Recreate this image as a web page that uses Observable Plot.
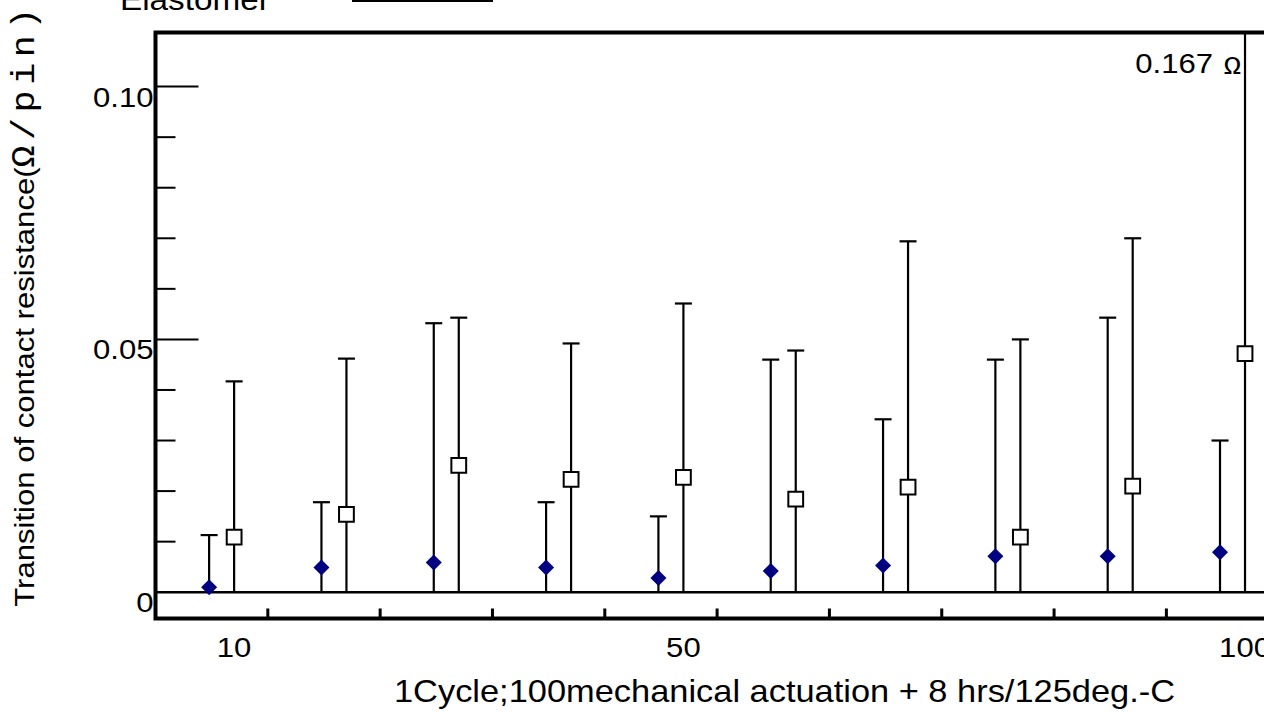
<!DOCTYPE html>
<html>
<head>
<meta charset="utf-8">
<script src="https://cdn.jsdelivr.net/npm/d3@7"></script>
<script src="https://cdn.jsdelivr.net/npm/@observablehq/plot@0.6"></script>
<style>
  html, body { margin: 0; padding: 0; overflow: hidden; background: white; }
  #legend { display: block; }
  #chart svg { overflow: visible !important; }
</style>
</head>
<body>
<svg id="legend" width="1264" height="25"></svg>
<div id="chart"></div>
<script>
// ---- data ----
const cycles = [10, 20, 30, 40, 50, 60, 70, 80, 90, 100];
const diamondMean  = [0.0010, 0.0049, 0.0059, 0.0049, 0.0028, 0.0042, 0.0053, 0.0071, 0.0071, 0.0079];
const diamondUpper = [0.0113, 0.0178, 0.0532, 0.0178, 0.0150, 0.0460, 0.0342, 0.0460, 0.0543, 0.0300];
const squareMean   = [0.0109, 0.0154, 0.0251, 0.0223, 0.0227, 0.0184, 0.0208, 0.0109, 0.0210, 0.0472];
const squareUpper  = [0.0417, 0.0462, 0.0543, 0.0492, 0.0571, 0.0478, 0.0694, 0.0500, 0.0700, 0.167];

const xTickValues = [13, 23, 33, 43, 53, 63, 73, 83, 93, 103, 113];
const xTickLabels = [10, 50, 100];
const yMinorTicks = [0.01, 0.02, 0.03, 0.04, 0.06, 0.07, 0.08, 0.09];
const yMajorTicks = [0.05, 0.10];
const yLabelValues = [0, 0.05, 0.10];
const yLabelTexts  = ["0", "0.05", "0.10"];

const legendLabel = "Elastomer";
const xTitle = "1Cycle;100mechanical actuation + 8 hrs/125deg.-C";
const yTitleSans = "Transition of contact resistance(";
const yTitleMono = "Ω/pin)";
const yTitle = yTitleSans + yTitleMono;

// ---- tables ----
const rowsA = cycles.map((c, i) => ({cycle: c, mean: diamondMean[i], upper: diamondUpper[i]}));
const rowsB = cycles.map((c, i) => ({cycle: c, mean: squareMean[i], upper: squareUpper[i]}));
const yLabels = yLabelValues.map((v, i) => ({v, t: yLabelTexts[i]}));

const SANS = "'Liberation Sans', Arial, Helvetica, sans-serif";
const MONO = "'Liberation Mono', 'Courier New', monospace";
const STRETCH = 1.11; // the reference's lettering is a little wider than Arial

// custom fixed-size symbols
const tickUp = len => ({draw(ctx) { ctx.moveTo(0, 0); ctx.lineTo(0, -len); }});
const tickRight = len => ({draw(ctx) { ctx.moveTo(0, 0); ctx.lineTo(len, 0); }});
const capSym = w => ({draw(ctx) { ctx.moveTo(-w / 2, 0); ctx.lineTo(w / 2, 0); }});
const diamondSym = h => ({draw(ctx) { ctx.moveTo(0, -h); ctx.lineTo(h, 0); ctx.lineTo(0, h); ctx.lineTo(-h, 0); ctx.closePath(); }});
const squareSym = h => ({draw(ctx) { ctx.rect(-h, -h, 2 * h, 2 * h); }});

const OFF = -25; // diamond series sits left of the square series
const txt = {fontFamily: SANS, fill: "black", lineAnchor: "middle"};

const plot = Plot.plot({
  width: 1413,
  height: 687,
  marginTop: 7,
  marginBottom: 94,
  marginLeft: 155,
  marginRight: 0,
  style: `max-width:none;font-family:${SANS};background:transparent;`,
  x: {type: "linear", domain: [3, 115], axis: null},
  y: {type: "linear", domain: [-0.0052, 0.1107], axis: null},
  marks: [
    Plot.ruleY([0], {stroke: "black", strokeWidth: 2.5}),
    // x ticks (inward from bottom)
    Plot.dot(xTickValues, {x: d => d, frameAnchor: "bottom", symbol: tickUp(10), r: 5, stroke: "black", strokeWidth: 3, fill: "none"}),
    // y ticks
    Plot.dot(yMinorTicks, {y: d => d, frameAnchor: "left", symbol: tickRight(20), r: 5, stroke: "black", strokeWidth: 2, fill: "none"}),
    Plot.dot(yMajorTicks, {y: d => d, frameAnchor: "left", symbol: tickRight(43), r: 5, stroke: "black", strokeWidth: 2, fill: "none"}),
    // error bars
    Plot.ruleX(rowsA, {x: "cycle", y1: 0, y2: "upper", stroke: "black", strokeWidth: 2.2, dx: OFF}),
    Plot.dot(rowsA, {x: "cycle", y: "upper", symbol: capSym(17), r: 5, stroke: "black", strokeWidth: 2.2, fill: "none", dx: OFF}),
    Plot.ruleX(rowsB, {x: "cycle", y1: 0, y2: "upper", stroke: "black", strokeWidth: 2.2, clip: "frame"}),
    Plot.dot(rowsB, {x: "cycle", y: "upper", symbol: capSym(17), r: 5, stroke: "black", strokeWidth: 2.2, fill: "none", clip: "frame"}),
    // points
    Plot.dot(rowsA, {x: "cycle", y: "mean", symbol: diamondSym(8), r: 5, fill: "#000080", stroke: "none", dx: OFF}),
    Plot.dot(rowsB, {x: "cycle", y: "mean", symbol: squareSym(7.4), r: 5, fill: "white", stroke: "black", strokeWidth: 2}),
    // frame
    Plot.frame({stroke: "black", strokeWidth: 4}),
    // tick labels
    Plot.text(yLabels, {...txt, y: "v", text: "t", frameAnchor: "left", textAnchor: "end", dx: -2, dy: 11, fontSize: 28}),
    Plot.text(xTickLabels, {...txt, x: d => d, text: d => String(d), frameAnchor: "bottom", textAnchor: "middle", dy: 30, fontSize: 28}),
    // axis titles
    Plot.text([xTitle], {...txt, text: d => d, frameAnchor: "bottom", textAnchor: "middle", dy: 74, fontSize: 31}),
    Plot.text([yTitle], {...txt, text: d => d, frameAnchor: "left", textAnchor: "middle", rotate: -90, dx: -130, dy: -21, fontSize: 28}),
    // off-scale annotation
    Plot.text([squareUpper[9]], {...txt, x: () => cycles[9], text: d => String(d), frameAnchor: "top", textAnchor: "end", dx: -32, dy: 32, fontSize: 28}),
    Plot.text(["Ω"], {...txt, x: () => cycles[9], text: d => d, frameAnchor: "top", textAnchor: "end", dx: -4, dy: 33, fontSize: 26, fontFamily: MONO})
  ]
});

// split the y title into a sans and a monospaced part
d3.select(plot).selectAll("text").filter(function() { return this.textContent === yTitle; })
  .each(function() {
    const t = d3.select(this);
    t.text(null);
    t.append("tspan").attr("font-family", SANS).text(yTitleSans);
    t.append("tspan").attr("font-family", MONO).attr("font-size", 33).attr("letter-spacing", 5).text(yTitleMono);
  });

// widen the lettering slightly (scale about each text's own anchor)
d3.select(plot).selectAll("text").each(function() {
  const tr = this.getAttribute("transform") || "";
  this.setAttribute("transform", `${tr} scale(${STRETCH},1)`);
});

document.getElementById("chart").appendChild(plot);

// legend (partly cut off at the top, as in the reference)
const lg = d3.select("#legend");
lg.append("text").attr("x", 120).attr("y", 10).attr("font-family", SANS).attr("font-size", 30)
  .attr("transform", `translate(120,0) scale(${STRETCH},1) translate(-120,0)`).attr("fill", "black").text(legendLabel);
lg.append("line").attr("x1", 352).attr("x2", 493).attr("y1", 1).attr("y2", 1).attr("stroke", "black").attr("stroke-width", 2);
</script>
</body>
</html>
